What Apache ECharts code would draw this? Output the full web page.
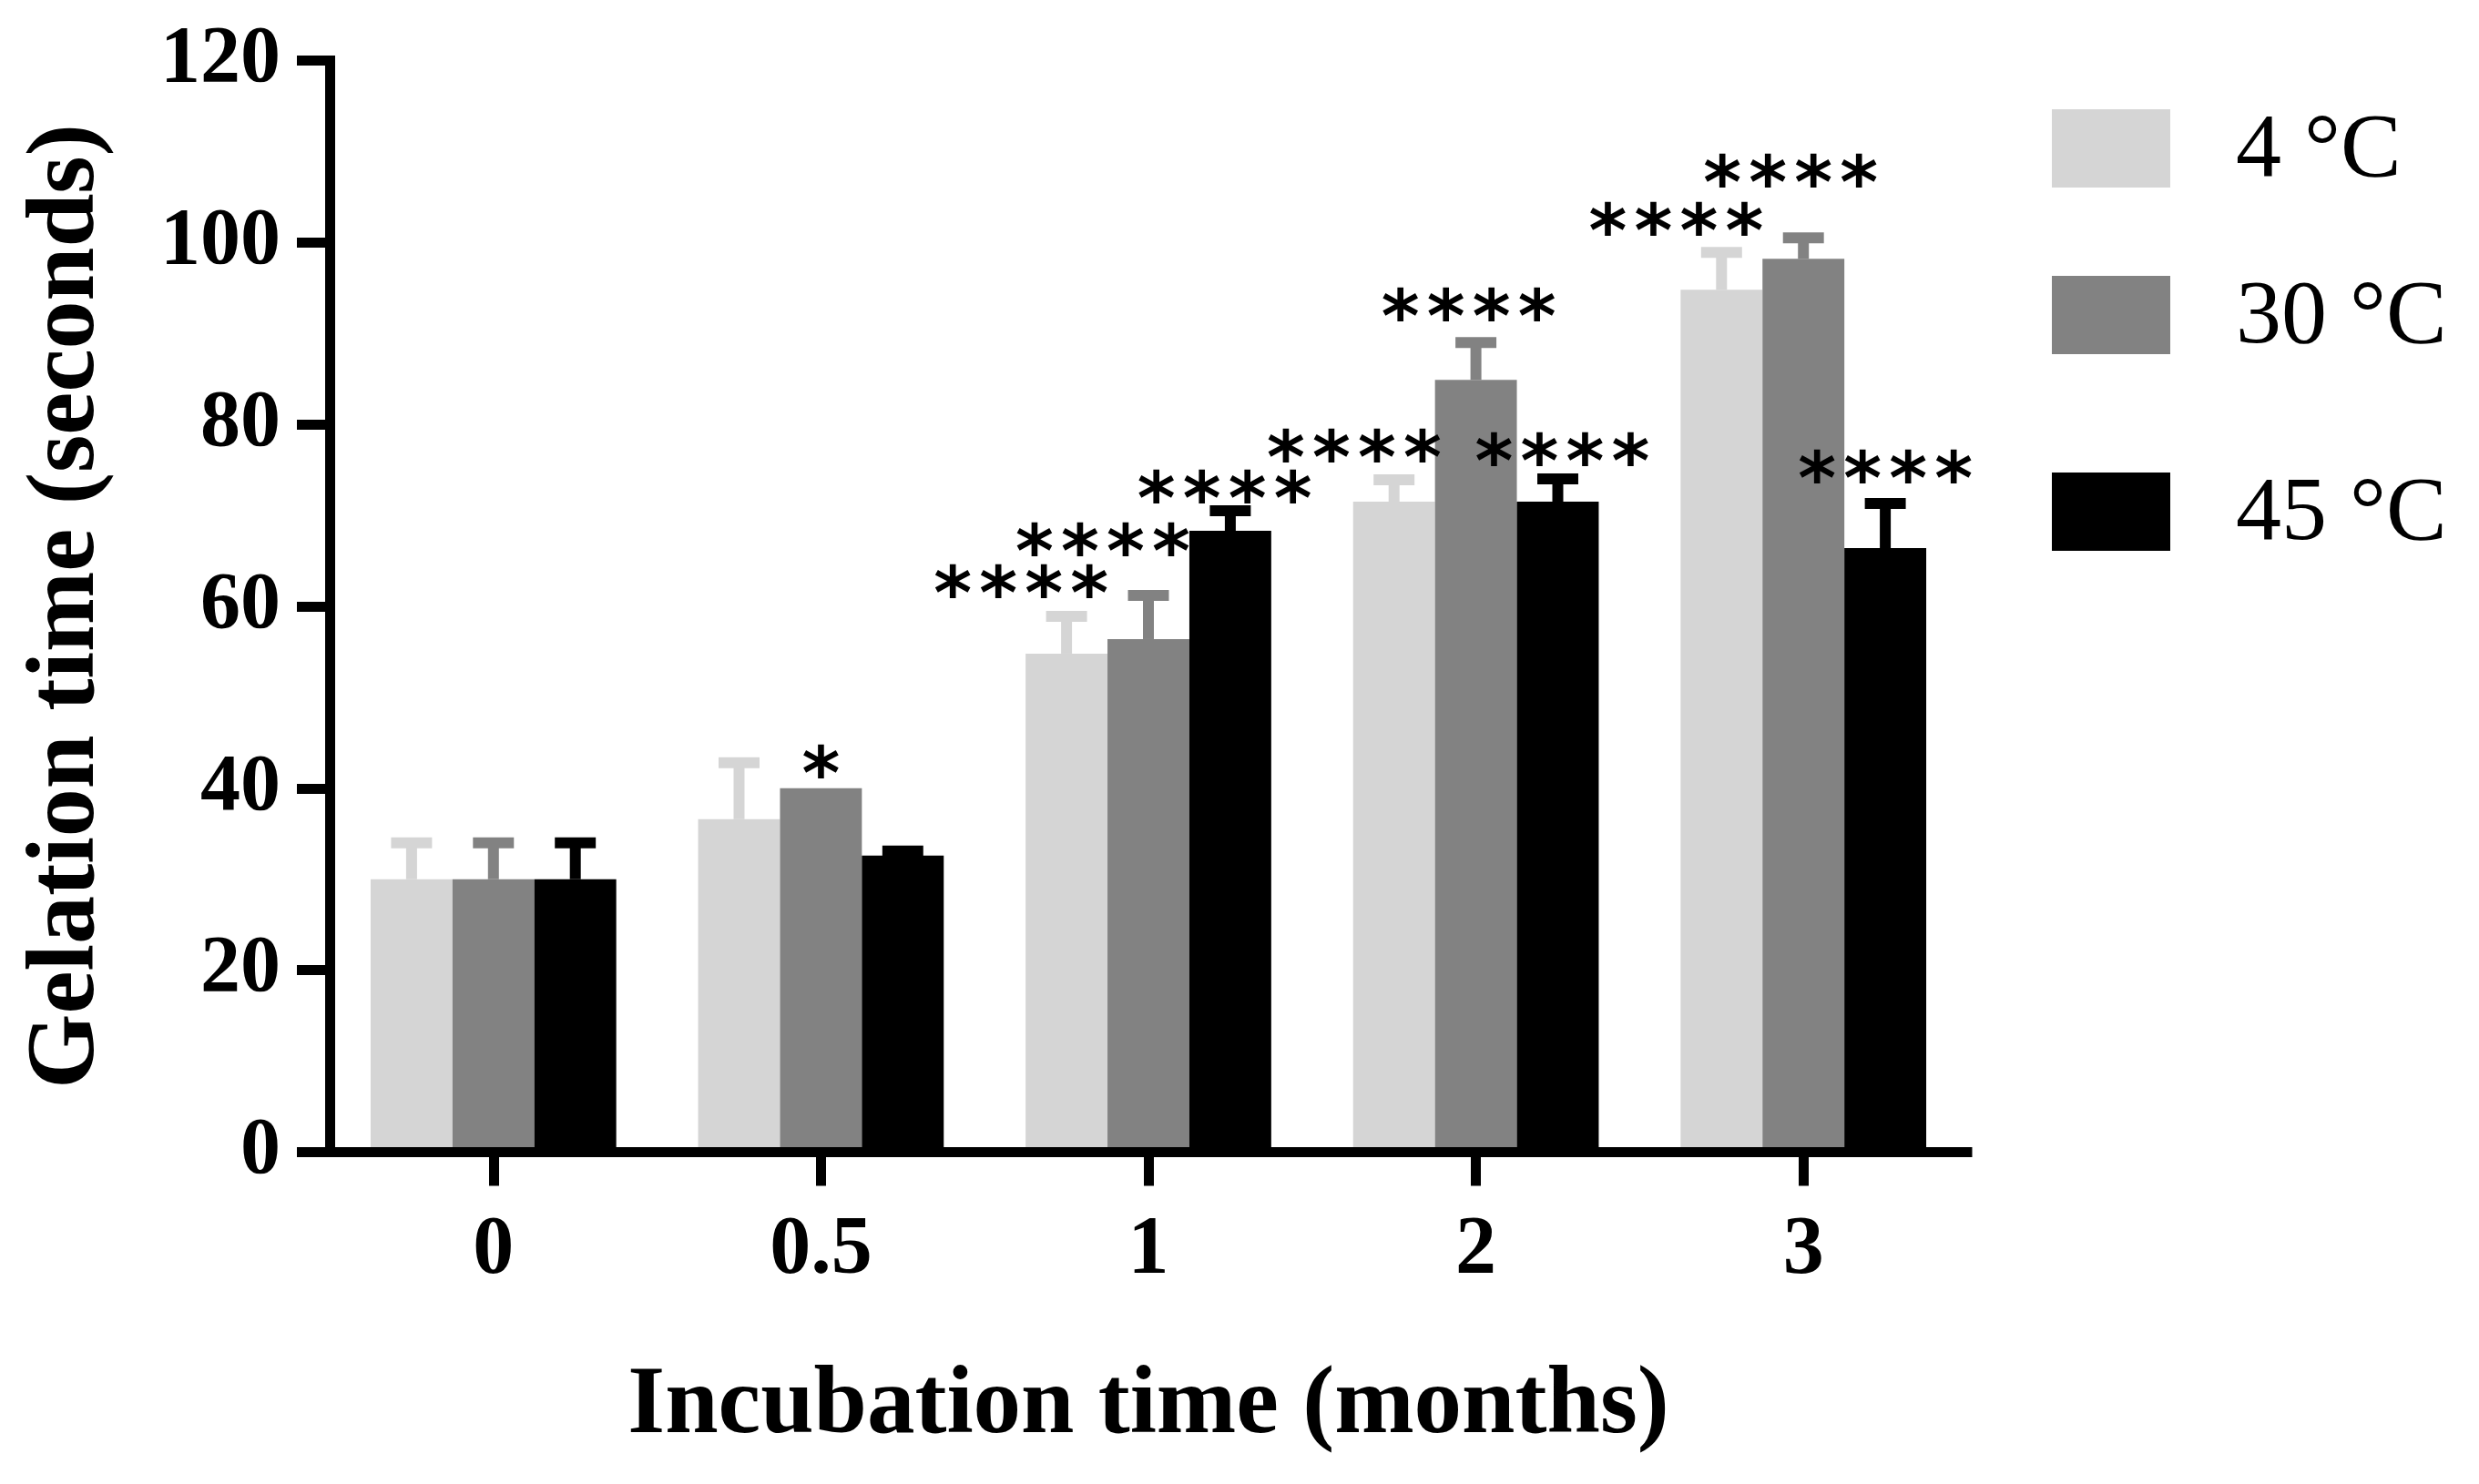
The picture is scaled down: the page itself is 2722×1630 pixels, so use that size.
<!DOCTYPE html>
<html>
<head>
<meta charset="utf-8">
<script src="https://cdn.jsdelivr.net/npm/echarts@6/dist/echarts.min.js"></script>
<style>
html,body{margin:0;padding:0;background:#fff;}
#chart{width:2722px;height:1630px;}
</style>
</head>
<body>
<div id="chart"></div>
<script>
// ---- data ----
const categories = ['0', '0.5', '1', '2', '3'];
const seriesNames = ['4 °C', '30 °C', '45 °C'];
const means4 = [30.0, 36.6, 54.8, 71.5, 94.8];
const means30 = [30.0, 40.0, 56.4, 84.9, 98.2];
const means45 = [30.0, 32.6, 68.3, 71.5, 66.4];
const err4 = [4.0, 6.2, 4.1, 2.4, 4.1];
const err30 = [4.0, 0.0, 4.8, 4.1, 2.3];
const err45 = [4.0, 0.5, 2.2, 2.5, 4.9];
const yMin = 0, yMax = 120, yStep = 20;
// significance marks: category index, series index, stars, height (seconds)
const sigCategory = [1, 2, 2, 2, 3, 3, 3, 4, 4, 4];
const sigSeries   = [1, 0, 1, 2, 0, 1, 2, 0, 1, 2];
const sigText     = ['*', '****', '****', '****', '****', '****', '****', '****', '****', '****'];
const sigHeight   = [43.0, 62.8, 67.4, 73.2, 77.7, 93.2, 77.3, 102.6, 107.9, 75.4];

// ---- layout / style ----
const sigNudge = [0, -0.139, -0.139, -0.017, -0.122, -0.022, 0.014, -0.139, -0.039, 0]; // in category widths
const colors = ['#d5d5d5', '#828282', '#000000'];
const serif = 'Liberation Serif';
const BAR_FRAC = 0.25;

const means = [means4, means30, means45];
const errs = [err4, err30, err45];

function barSeries(k) {
  return {
    type: 'bar',
    name: seriesNames[k],
    data: means[k],
    barGap: '0%',
    barCategoryGap: '25%',
    itemStyle: { color: colors[k] },
    z: 2
  };
}

function errSeries(k) {
  return {
    type: 'custom',
    name: 'err' + k,
    data: means[k].map((m, i) => [i, m, m + errs[k][i]]),
    encode: { x: 0, y: [1, 2] },
    z: 3,
    renderItem: function (params, api) {
      const i = api.value(0), m = api.value(1), t = api.value(2);
      if (!(t > m)) return;
      const band = api.size([1, 0])[0];
      const base = api.coord([i, m]);
      const top = api.coord([i, t]);
      const x = base[0] + (k - 1) * band * BAR_FRAC;
      const capHalf = band * BAR_FRAC * 0.25;
      return {
        type: 'group',
        children: [
          { type: 'line', shape: { x1: x, y1: base[1], x2: x, y2: top[1] },
            style: { stroke: colors[k], lineWidth: 12 } },
          { type: 'line', shape: { x1: x - capHalf, y1: top[1], x2: x + capHalf, y2: top[1] },
            style: { stroke: colors[k], lineWidth: 12 } }
        ]
      };
    }
  };
}

const sigSeriesDef = {
  type: 'custom',
  name: 'sig',
  data: sigCategory.map((c, j) => [c, sigHeight[j]]),
  encode: { x: 0, y: 1 },
  z: 5,
  renderItem: function (params, api) {
    const j = params.dataIndex;
    const p = api.coord([api.value(0), api.value(1)]);
    const band = api.size([1, 0])[0];
    const cx = p[0] + (sigSeries[j] - 1) * band * BAR_FRAC + sigNudge[j] * band;
    const txt = sigText[j];
    const n = txt.length;
    const pitch = 50;
    const children = [];
    for (let s = 0; s < n; s++) {
      children.push({
        type: 'text',
        style: {
          text: '*',
          x: cx + (s - (n - 1) / 2) * pitch,
          y: p[1] + 20,
          align: 'center',
          verticalAlign: 'middle',
          font: 'bold 80px "DejaVu Sans"',
          fill: '#000'
        }
      });
    }
    return { type: 'group', children: children };
  }
};

function legendFor(k, top) {
  return {
    data: [seriesNames[k]],
    left: 2253,
    top: top,
    orient: 'vertical',
    padding: 0,
    itemWidth: 130,
    itemHeight: 86,
    icon: 'rect',
    selectedMode: false,
    formatter: '{t|{name}}',
    textStyle: {
      rich: { t: { fontFamily: serif, fontSize: 100, color: '#000', lineHeight: 86, padding: [8, 0, 0, 67] } }
    }
  };
}

const chart = echarts.init(document.getElementById('chart'), null, { renderer: 'canvas' });
chart.setOption({
  backgroundColor: '#ffffff',
  animation: false,
  legend: [legendFor(0, 109), legendFor(1, 292), legendFor(2, 508)],
  grid: { left: 362, top: 66.5, width: 1798, height: 1199, containLabel: false },
  xAxis: {
    type: 'category',
    data: categories,
    z: 10,
    axisLine: { show: true, lineStyle: { color: '#000', width: 11, cap: 'square' } },
    axisTick: { show: true, alignWithLabel: true, length: 37, lineStyle: { color: '#000', width: 11 } },
    axisLabel: { fontFamily: serif, fontWeight: 'bold', fontSize: 90, color: '#000', margin: 64 },
    name: 'Incubation time (months)',
    nameLocation: 'middle',
    nameGap: 228,
    nameTextStyle: { fontFamily: serif, fontWeight: 'bold', fontSize: 105, color: '#000' }
  },
  yAxis: {
    type: 'value',
    min: yMin, max: yMax, interval: yStep,
    z: 10,
    splitLine: { show: false },
    axisLine: { show: true, lineStyle: { color: '#000', width: 11, cap: 'square' } },
    axisTick: { show: true, length: 36, lineStyle: { color: '#000', width: 11 } },
    axisLabel: { fontFamily: serif, fontWeight: 'bold', fontSize: 88, color: '#000', margin: 54 },
    name: 'Gelation time (seconds)',
    nameLocation: 'middle',
    nameGap: 234,
    nameTextStyle: { fontFamily: serif, fontWeight: 'bold', fontSize: 106, color: '#000' }
  },
  series: [barSeries(0), barSeries(1), barSeries(2), errSeries(0), errSeries(1), errSeries(2), sigSeriesDef]
});
</script>
</body>
</html>
